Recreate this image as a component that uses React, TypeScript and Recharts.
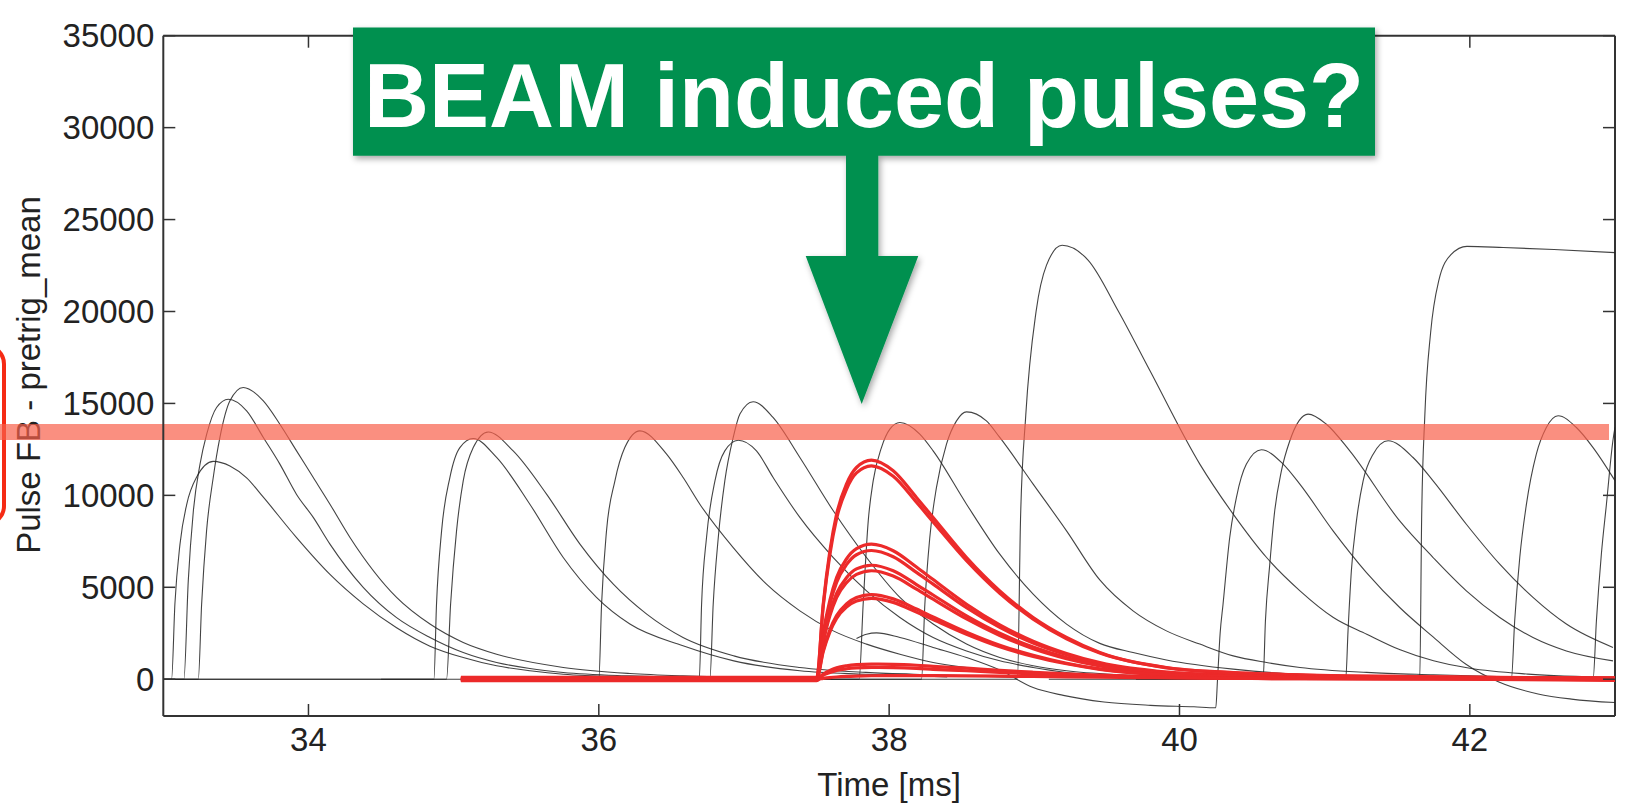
import { LineChart, Line, XAxis, YAxis, ReferenceLine } from "recharts";

const xTicks = [34, 36, 38, 40, 42];
const yTicks = [0, 5000, 10000, 15000, 20000, 25000, 30000, 35000];
const threshold = 13450;

// black pulse traces, [time ms, pulse value]
const pulseA = [[33.0, 0], [33.057, 0], [33.08, 4100], [33.115, 7350], [33.161, 9500], [33.23, 11000], [33.344, 11850], [33.459, 11600], [33.574, 10950], [33.689, 9900], [33.918, 7700], [34.148, 5700], [34.377, 4100], [34.607, 2800], [34.837, 1800], [35.066, 1180], [35.296, 730], [35.525, 460], [35.755, 270], [36.214, 130], [36.8, 60]];
const pulseB = [[33.0, 0], [33.142, 0], [33.172, 5350], [33.207, 9150], [33.253, 11700], [33.298, 13300], [33.367, 14780], [33.448, 15230], [33.574, 14600], [33.689, 13150], [33.803, 11700], [33.918, 10050], [34.033, 8800], [34.148, 7350], [34.377, 5000], [34.607, 3350], [34.837, 2270], [35.066, 1450], [35.296, 910], [35.525, 580], [35.755, 370], [36.214, 180], [36.9, 70]];
const pulseC = [[33.0, 0], [33.241, 0], [33.264, 4080], [33.298, 8070], [33.344, 10970], [33.39, 13150], [33.459, 15140], [33.551, 15870], [33.689, 15140], [33.803, 13870], [33.918, 12420], [34.033, 10970], [34.148, 9520], [34.286, 7710], [34.607, 4450], [34.837, 3000], [35.066, 2000], [35.296, 1360], [35.755, 640], [36.214, 310], [36.58, 180], [37.2, 80]];
const pulseD = [[33.0, 0], [34.864, 0], [34.882, 4080], [34.917, 8070], [34.974, 10970], [35.043, 12600], [35.135, 13090], [35.296, 12060], [35.525, 9520], [35.755, 6620], [35.984, 4450], [36.214, 3000], [36.58, 1820], [36.93, 1000], [37.385, 460], [37.84, 270], [38.4, 120]];
const pulseE = [[33.0, 0], [34.951, 0], [34.979, 4080], [35.02, 8070], [35.066, 10790], [35.135, 12600], [35.238, 13450], [35.41, 12420], [35.64, 10070], [35.87, 7350], [36.1, 5170], [36.33, 3540], [36.58, 2270], [36.93, 1270], [37.385, 640], [37.84, 370], [38.3, 240], [38.9, 100]];
const pulseF = [[34.5, 0], [36.0, 0], [36.019, 4080], [36.053, 8070], [36.111, 10790], [36.179, 12600], [36.283, 13510], [36.467, 12240], [36.581, 10970], [36.696, 9520], [36.926, 7160], [37.155, 5170], [37.385, 3720], [37.615, 2630], [37.844, 1910], [38.074, 1360], [38.303, 910], [38.762, 460], [39.222, 270], [39.8, 120]];
const pulseG = [[35.2, 0], [36.692, 0], [36.708, 4080], [36.742, 7710], [36.8, 10790], [36.868, 12420], [36.96, 13000], [37.086, 12420], [37.201, 10970], [37.385, 8800], [37.615, 6620], [37.844, 4810], [38.074, 3360], [38.303, 2270], [38.533, 1540], [38.762, 1000], [38.992, 640], [39.222, 370], [39.589, 180], [40.2, 80]];
const pulseH = [[35.3, 0], [36.765, 0], [36.788, 4080], [36.823, 7710], [36.868, 10790], [36.926, 13150], [36.972, 14420], [37.063, 15090], [37.2, 14240], [37.385, 12060], [37.615, 9160], [37.844, 6620], [38.074, 4450], [38.303, 3000], [38.533, 1910], [38.762, 1180], [38.992, 730], [39.222, 460], [39.589, 240], [40.2, 100]];
const pulseI = [[37.775, 2220], [37.844, 2450], [37.913, 2520], [38.074, 2270], [38.303, 1730], [38.533, 1180], [38.762, 500], [38.992, -450], [39.2, -880], [39.48, -1240], [39.8, -1420], [40.1, -1500], [40.25, -1550], [40.262, 0], [40.28, 2500], [40.3, 4080], [40.346, 7710], [40.392, 9880], [40.461, 11700], [40.564, 12480], [40.714, 11700], [40.829, 10610], [41.058, 8070], [41.288, 5800], [41.517, 3900], [41.747, 2300], [41.976, 800], [42.2, -150], [42.47, -800], [42.7, -1080], [43.0, -1270]];
const pulseJ = [[36.3, 0], [37.793, 0], [37.821, 4080], [37.856, 8610], [37.89, 10790], [37.947, 12600], [38.005, 13600], [38.074, 13960], [38.211, 13330], [38.303, 12420], [38.533, 9520], [38.762, 6800], [38.992, 4630], [39.222, 3000], [39.451, 1950], [39.68, 1450], [39.91, 1050], [40.37, 550], [40.83, 270], [41.75, 120]];
const pulseK = [[36.7, 0], [38.223, 0], [38.246, 4080], [38.28, 7710], [38.326, 10430], [38.395, 12790], [38.464, 14050], [38.533, 14540], [38.67, 14050], [38.762, 13150], [38.992, 10610], [39.222, 8070], [39.451, 5400], [39.68, 3720], [39.91, 2630], [40.14, 1910], [40.37, 1270], [40.6, 910], [40.83, 640], [41.29, 370], [41.75, 240], [42.4, 100]];
const pulseL = [[37.4, 0], [38.884, 0], [38.905, 8710], [38.941, 14350], [39.012, 19990], [39.084, 22520], [39.191, 23600], [39.37, 22800], [39.58, 20000], [39.795, 16800], [40.14, 11700], [40.37, 8980], [40.6, 6620], [40.83, 4810], [41.06, 3360], [41.29, 2450], [41.52, 1600], [41.75, 1000], [42.0, 600], [42.4, 280], [43.0, 100]];
const pulseM = [[40.2, 0], [41.655, 0], [41.668, 8710], [41.69, 14350], [41.73, 18860], [41.786, 21680], [41.87, 23090], [41.98, 23540], [42.23, 23480], [42.58, 23370], [43.0, 23200]];
const pulseN = [[39.1, 0], [40.576, 0], [40.592, 3180], [40.622, 6260], [40.656, 9160], [40.702, 11330], [40.76, 12970], [40.886, 14420], [41.012, 13870], [41.173, 12420], [41.517, 8610], [41.747, 6620], [41.976, 4810], [42.206, 3360], [42.435, 2270], [42.665, 1540], [42.986, 1000]];
const pulseO = [[39.7, 0], [41.145, 0], [41.161, 2630], [41.184, 5900], [41.219, 8610], [41.265, 10790], [41.334, 12240], [41.437, 12970], [41.609, 12060], [41.747, 10790], [41.976, 8430], [42.206, 6260], [42.435, 4450], [42.665, 3000], [42.986, 1730]];
const pulseP = [[40.8, 0], [42.286, 0], [42.309, 3180], [42.344, 6620], [42.39, 9520], [42.458, 12240], [42.527, 13690], [42.608, 14330], [42.734, 13690], [42.849, 12600], [43.0, 10800]];
const pulseQ = [[41.4, 0], [42.849, 0], [42.872, 3180], [42.906, 6800], [42.941, 9520], [42.986, 13000], [43.0, 13700]];

const blackTraces = [pulseA, pulseB, pulseC, pulseD, pulseE, pulseF, pulseG, pulseH, pulseI, pulseJ, pulseK, pulseL, pulseM, pulseN, pulseO, pulseP, pulseQ];

// red (beam window) traces share one time base
const redTimes = [35.05, 37.5, 37.546, 37.592, 37.638, 37.706, 37.775, 37.878, 38.028, 38.188, 38.303, 38.533, 38.762, 38.992, 39.222, 39.451, 39.91, 40.37, 40.83, 41.75, 43.0];
const red1 = [40, 40, 4082, 6983, 8977, 10609, 11515, 11914, 11334, 9884, 8796, 6620, 4807, 3357, 2269, 1453, 637, 365, 240, 130, 60];
const red2 = [-40, -40, 3980, 6800, 8740, 10330, 11220, 11606, 11040, 9630, 8560, 6450, 4680, 3270, 2200, 1420, 620, 360, 230, 130, 20];
const red3 = [80, 80, 2520, 4300, 5530, 6540, 7100, 7345, 6990, 6100, 5420, 4080, 2960, 2070, 1400, 900, 390, 230, 150, 80, 80];
const red4 = [0, 0, 2400, 4100, 5270, 6230, 6770, 7000, 6660, 5810, 5170, 3890, 2820, 1970, 1330, 850, 370, 220, 140, 80, 0];
const red5 = [-60, -60, 2130, 3630, 4670, 5520, 6000, 6200, 5900, 5150, 4580, 3450, 2500, 1750, 1180, 760, 330, 190, 120, 70, -40];
const red6 = [100, 100, 2020, 3460, 4440, 5250, 5700, 5900, 5610, 4900, 4350, 3280, 2380, 1660, 1120, 720, 310, 180, 120, 60, 60];
const red7 = [20, 20, 1580, 2700, 3460, 4090, 4450, 4600, 4370, 3820, 3390, 2560, 1850, 1300, 870, 560, 240, 140, 90, 50, 30];
const red8 = [-20, -20, 1510, 2580, 3310, 3920, 4250, 4400, 4180, 3650, 3250, 2450, 1770, 1240, 840, 540, 230, 140, 90, 50, -20];
const red9 = [40, 40, 280, 480, 620, 730, 790, 820, 810, 760, 700, 600, 480, 380, 290, 220, 120, 70, 40, 20, 40];
const red10 = [-80, -80, 220, 370, 480, 570, 620, 640, 630, 590, 540, 460, 370, 290, 220, 170, 90, 50, 30, 20, -60];
const red11 = [0, 0, 50, 90, 120, 150, 170, 190, 200, 200, 195, 185, 170, 150, 130, 110, 80, 50, 30, 20, 0];

const redTraces = [red1, red2, red3, red4, red5, red6, red7, red8, red9, red10, red11];

const FONT = '"Liberation Sans", Arial, Helvetica, sans-serif';
const PLOT_W = 1451.7;
const PLOT_H = 680.3;
const GREEN = "#02904f";

const blackData = blackTraces.map((tr) => tr.map(([t, v]) => ({ t, v })));
const redData = redTraces.map((vals) => redTimes.map((t, i) => ({ t, v: vals[i] })));

function XTick(props: any) {
  const { x, y, payload } = props;
  return (
    <g>
      <line x1={x} x2={x} y1={y} y2={y - 12} stroke="#333" strokeWidth={1.5} />
      <line x1={x} x2={x} y1={y - PLOT_H} y2={y - PLOT_H + 12} stroke="#333" strokeWidth={1.5} />
      <text x={x} y={y + 35} textAnchor="middle" fontSize={33} fontFamily={FONT} fill="#222">
        {payload.value}
      </text>
    </g>
  );
}

function YTick(props: any) {
  const { x, y, payload } = props;
  return (
    <g>
      <line x1={x} x2={x + 12} y1={y} y2={y} stroke="#333" strokeWidth={1.5} />
      <line x1={x + PLOT_W} x2={x + PLOT_W - 12} y1={y} y2={y} stroke="#333" strokeWidth={1.5} />
      <text x={x - 9} y={y + 11.5} textAnchor="end" fontSize={33} fontFamily={FONT} fill="#222">
        {payload.value}
      </text>
    </g>
  );
}

function Band(props: any) {
  return (
    <line x1={0} x2={props.x2 - 6} y1={props.y1} y2={props.y2} stroke="rgba(248,95,74,0.7)" strokeWidth={16} />
  );
}

export default function App() {
  return (
    <div style={{ position: "absolute", left: 0, top: 0, width: 1625, height: 811, background: "#fff", overflow: "hidden" }}>
      {/* under the chart: axis title and the red outline at the edge */}
      <svg width={1625} height={811} style={{ position: "absolute", left: 0, top: 0 }}>
        <rect x={-80} y={346} width={84} height={178} rx={18} fill="none" stroke="#f52a14" strokeWidth={4} />
        <text transform="translate(39.5,375) rotate(-90)" textAnchor="middle" fontSize={33} fontFamily={FONT} fill="#222">
          Pulse FB - pretrig_mean
        </text>
      </svg>

      <div style={{ position: "absolute", left: 0, top: 0 }}>
        <LineChart width={1625} height={811} margin={{ top: 35.7, right: 10, bottom: 0, left: 0 }}>
          <XAxis
            type="number"
            dataKey="t"
            domain={[33, 43]}
            ticks={xTicks}
            allowDataOverflow
            interval={0}
            height={95}
            tickSize={0}
            tickMargin={0}
            tickLine={false}
            axisLine={{ stroke: "#333", strokeWidth: 2 }}
            tick={(p: any) => <XTick {...p} />}
            label={{ value: "Time [ms]", position: "insideBottom", offset: 15, fontSize: 33, fill: "#222", fontFamily: FONT }}
          />
          <YAxis
            type="number"
            dataKey="v"
            domain={[-2000, 35000]}
            ticks={yTicks}
            allowDataOverflow
            interval={0}
            width={163.3}
            tickSize={0}
            tickMargin={0}
            tickLine={false}
            axisLine={{ stroke: "#333", strokeWidth: 2 }}
            tick={(p: any) => <YTick {...p} />}
          />
          <ReferenceLine y={35000} stroke="#333" strokeWidth={2} />
          <ReferenceLine x={43} stroke="#333" strokeWidth={2} />
          {blackData.map((d, i) => (
            <Line
              key={`b${i}`}
              data={d}
              dataKey="v"
              type="monotone"
              stroke="#222"
              strokeOpacity={0.85}
              strokeWidth={1.1}
              dot={false}
              isAnimationActive={false}
            />
          ))}
          {redData.map((d, i) => (
            <Line
              key={`r${i}`}
              data={d}
              dataKey="v"
              type="monotone"
              stroke="#ec2a2a"
              strokeWidth={3.2}
              dot={false}
              isAnimationActive={false}
            />
          ))}
          <ReferenceLine y={threshold} shape={(p: any) => <Band {...p} />} />
        </LineChart>
      </div>

      {/* callout on top of the frame */}
      <svg width={1625} height={811} style={{ position: "absolute", left: 0, top: 0, pointerEvents: "none" }}>
        <defs>
          <filter id="shadow" x="-5%" y="-10%" width="110%" height="130%">
            <feDropShadow dx={2} dy={3} stdDeviation={3} floodColor="#000" floodOpacity={0.35} />
          </filter>
        </defs>
        <path
          d="M353,27.5 H1375 V155.7 H878.3 V256 H918.3 L861.7,404 L805.7,256 H846 V155.7 H353 Z"
          fill={GREEN}
          filter="url(#shadow)"
        />
        <text x={864} y={126.7} textAnchor="middle" fontSize={90} fontWeight="bold" fontFamily={FONT} fill="#fff">
          BEAM induced pulses?
        </text>
      </svg>
    </div>
  );
}
